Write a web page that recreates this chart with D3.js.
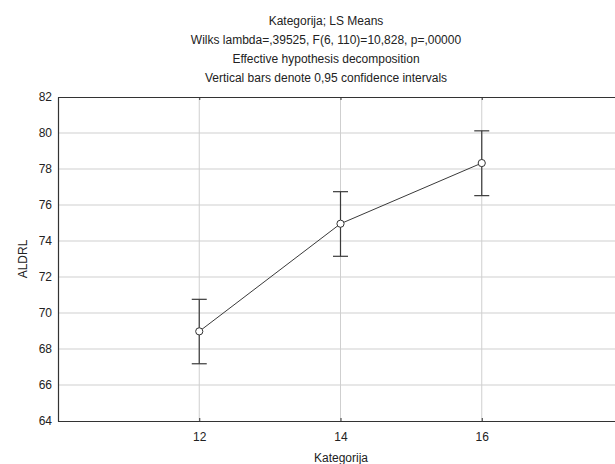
<!DOCTYPE html>
<html lang="en">
<head>
<meta charset="UTF-8">
<title>Kategorija; LS Means</title>
<script src="https://d3js.org/d3.v7.min.js"></script>
<style>
  html, body { margin: 0; background: #fff; overflow: hidden; }
  svg { display: block; }
  svg text { font-family: "Liberation Sans", Arial, sans-serif; fill: #222; }
</style>
</head>
<body>
<div id="chart"></div>
<script>
// data
const categories = [12, 14, 16];
const means = [68.98, 74.96, 78.33];
const lower = [67.18, 73.15, 76.52];
const upper = [70.76, 76.74, 80.12];
const yTicks = [64, 66, 68, 70, 72, 74, 76, 78, 80, 82];
const titleLines = [
  "Kategorija; LS Means",
  "Wilks lambda=,39525, F(6, 110)=10,828, p=,00000",
  "Effective hypothesis decomposition",
  "Vertical bars denote 0,95 confidence intervals"
];

const W = 615, H = 464;
// the plot box runs past the right edge of the picture (x domain 10..18)
const plotL = 58, plotT = 97, plotR = 623, plotB = 421;

const svg = d3.select("#chart").append("svg")
  .attr("width", W).attr("height", H);

const x = d3.scaleLinear().domain([10, 18]).range([plotL, plotR]);
const y = d3.scaleLinear().domain([64, 82]).range([plotB, plotT]);

// gridlines (stop at the picture edge)
svg.append("g").selectAll("line")
  .data(yTicks.filter(d => d > 64 && d < 82))
  .enter().append("line")
  .attr("x1", plotL).attr("x2", W)
  .attr("y1", d => y(d)).attr("y2", d => y(d))
  .attr("stroke", "#cfcfcf").attr("stroke-width", 1);

svg.append("g").selectAll("line")
  .data(categories)
  .enter().append("line")
  .attr("x1", d => x(d)).attr("x2", d => x(d))
  .attr("y1", plotT).attr("y2", plotB)
  .attr("stroke", "#cfcfcf").attr("stroke-width", 1);

// axes (ticks pointing inward)
const xAxis = svg.append("g")
  .attr("transform", `translate(0,${plotB})`)
  .call(d3.axisBottom(x).tickValues(categories).tickSizeInner(-3).tickSizeOuter(0).tickPadding(11));
const xTop = svg.append("g")
  .attr("transform", `translate(0,${plotT})`)
  .call(d3.axisTop(x).tickValues(categories).tickSizeInner(-3).tickSizeOuter(0).tickFormat(""));
const yAxis = svg.append("g")
  .attr("transform", `translate(${plotL},0)`)
  .call(d3.axisLeft(y).tickValues(yTicks).tickSizeInner(0).tickSizeOuter(0).tickPadding(6));

// keep horizontal axis lines inside the picture
[xAxis, xTop].forEach(g => g.select(".domain").attr("d", `M${plotL},0.5H${W}`));

[xAxis, xTop, yAxis].forEach(g => {
  g.select(".domain").attr("stroke", "#333").attr("stroke-width", 1.2);
  g.selectAll(".tick line").attr("stroke", "#333");
  g.selectAll(".tick text").style("font-size", "12px").attr("fill", "#222");
});

// error bars
const eb = svg.append("g").attr("stroke", "#3a3a3a").attr("stroke-width", 1.2);
eb.selectAll("line.bar").data(categories).enter().append("line")
  .attr("class", "bar")
  .attr("x1", d => x(d)).attr("x2", d => x(d))
  .attr("y1", (d, i) => y(upper[i])).attr("y2", (d, i) => y(lower[i]));
eb.selectAll("line.capu").data(categories).enter().append("line")
  .attr("class", "capu")
  .attr("x1", d => x(d) - 7.5).attr("x2", d => x(d) + 7.5)
  .attr("y1", (d, i) => y(upper[i])).attr("y2", (d, i) => y(upper[i]));
eb.selectAll("line.capl").data(categories).enter().append("line")
  .attr("class", "capl")
  .attr("x1", d => x(d) - 7.5).attr("x2", d => x(d) + 7.5)
  .attr("y1", (d, i) => y(lower[i])).attr("y2", (d, i) => y(lower[i]));

// mean line
const line = d3.line().x((d, i) => x(categories[i])).y(d => y(d));
svg.append("path")
  .datum(means)
  .attr("d", line)
  .attr("fill", "none")
  .attr("stroke", "#3a3a3a")
  .attr("stroke-width", 1);

svg.append("g").selectAll("circle")
  .data(means)
  .enter().append("circle")
  .attr("cx", (d, i) => x(categories[i]))
  .attr("cy", d => y(d))
  .attr("r", 3.6)
  .attr("fill", "#fff")
  .attr("stroke", "#333")
  .attr("stroke-width", 1);

// titles
svg.append("g").selectAll("text")
  .data(titleLines)
  .enter().append("text")
  .attr("x", 326)
  .attr("y", (d, i) => 25 + i * 19)
  .attr("text-anchor", "middle")
  .style("font-size", "12px")
  .text(d => d);

// axis titles
svg.append("text")
  .attr("x", 341).attr("y", 462)
  .attr("text-anchor", "middle")
  .style("font-size", "12px")
  .text("Kategorija");

svg.append("text")
  .attr("transform", `translate(27,${(plotT + plotB) / 2}) rotate(-90)`)
  .attr("text-anchor", "middle")
  .style("font-size", "12px")
  .text("ALDRL");
</script>
</body>
</html>
